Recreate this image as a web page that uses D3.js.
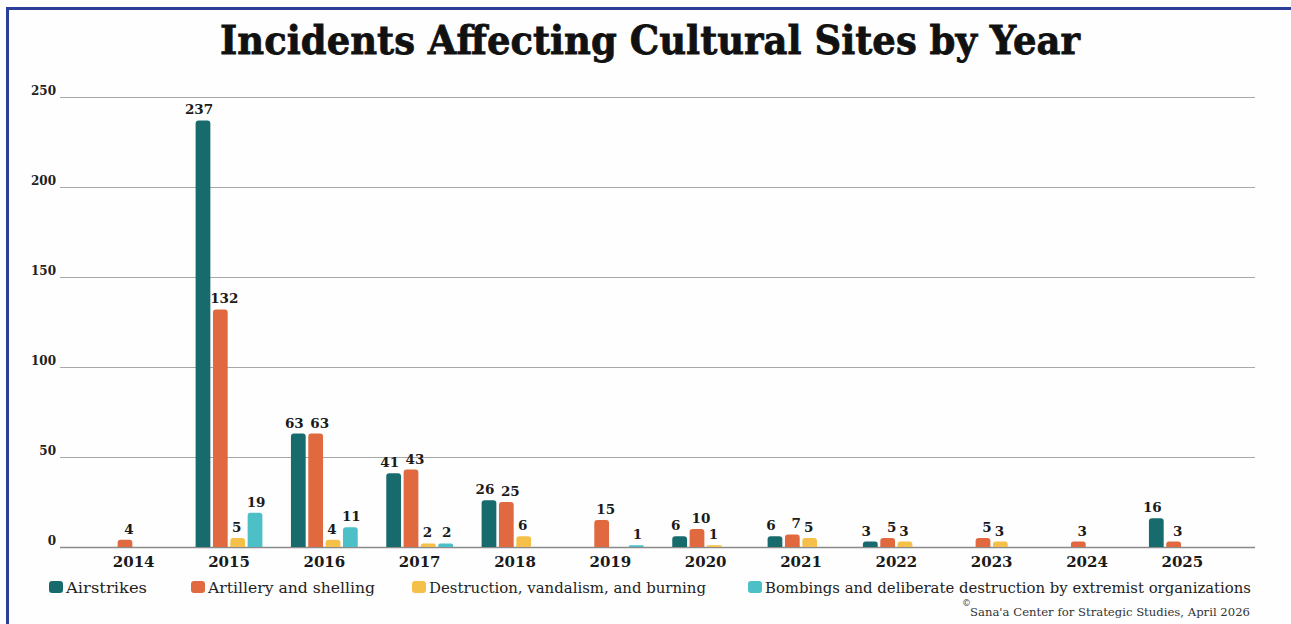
<html>
  <head>
    <title>Incidents Affecting Cultural Sites by Year</title>
    <script src="https://d3js.org/d3.v7.min.js"></script>
    <style>
      body { margin: 0; background: #ffffff; }
      text { font-family: "DejaVu Serif", serif; }
    </style>
  </head>
  <body>
    <div id="d3"></div>
    <script>
      // values
      const years = ["2014", "2015", "2016", "2017", "2018", "2019", "2020", "2021", "2022", "2023", "2024", "2025"];
      const airstrikes  = [0, 237, 63, 41, 26, 0, 6, 6, 3, 0, 0, 16];
      const artillery   = [4, 132, 63, 43, 25, 15, 10, 7, 5, 5, 3, 3];
      const destruction = [0, 5, 4, 2, 6, 0, 1, 5, 3, 3, 0, 0];
      const bombings    = [0, 19, 11, 2, 0, 1, 0, 0, 0, 0, 0, 0];
      const seriesNames = [
        "Airstrikes",
        "Artillery and shelling",
        "Destruction, vandalism, and burning",
        "Bombings and deliberate destruction by extremist organizations"
      ];
      const seriesColors = ["#186b6c", "#e0693f", "#f5c049", "#4cbfc7"];
      const yTicks = [0, 50, 100, 150, 200, 250];

      const series = [airstrikes, artillery, destruction, bombings];

      let data = {
        width: 1291,
        height: 624,
        plotLeft: 60,
        plotRight: 1255,
        bandLeft: 86,
        bandRight: 1230,
        yTop: 97,
        yBase: 547
      };

      let svg = d3.select("#d3")
        .append("svg")
        .attr("width", data.width)
        .attr("height", data.height)

      svg.append("rect")
        .attr("width", data.width)
        .attr("height", data.height)
        .attr("fill", "#fefefe")

      // blue frame (top and left edges)
      svg.append("path")
        .attr("d", `M7.5,${data.height} L7.5,8.5 L${data.width},8.5`)
        .attr("fill", "none")
        .attr("stroke", "#2b3f99")
        .attr("stroke-width", 3)

      svg.append("text")
        .attr("x", 650)
        .attr("y", 54)
        .attr("text-anchor", "middle")
        .attr("font-size", 40)
        .attr("font-weight", "bold")
        .attr("textLength", 860)
        .attr("lengthAdjust", "spacingAndGlyphs")
        .attr("fill", "#111")
        .attr("stroke", "#111")
        .attr("stroke-width", 0.8)
        .text("Incidents Affecting Cultural Sites by Year")

      let y = d3.scaleLinear()
        .domain([0, 250])
        .range([data.yBase, data.yTop])

      let x0 = d3.scaleBand()
        .domain(years)
        .range([data.bandLeft, data.bandRight])

      let x1 = d3.scaleBand()
        .domain(d3.range(series.length))
        .range([0, 72])
        .padding(0.15)

      // gridlines + y labels
      let grid = svg.append("g")
      grid.selectAll("line")
        .data(yTicks)
        .join("line")
        .attr("x1", data.plotLeft)
        .attr("x2", data.plotRight)
        .attr("y1", d => Math.round(y(d)) + 0.5)
        .attr("y2", d => Math.round(y(d)) + 0.5)
        .attr("stroke", d => d === 0 ? "#8a8a8a" : "#a8a8a8")
        .attr("stroke-width", d => d === 0 ? 1.5 : 1)

      grid.selectAll("text")
        .data(yTicks)
        .join("text")
        .attr("x", 56)
        .attr("y", d => y(d) - 2)
        .attr("text-anchor", "end")
        .attr("font-size", 12)
        .attr("font-weight", "bold")
        .attr("fill", "#222")
        .text(d => d)

      // rounded-top bar path
      let barPath = (x, top, w, h) => {
        const r = Math.min(3, h / 2, w / 2);
        return `M${x},${top + h} L${x},${top + r} Q${x},${top} ${x + r},${top}` +
          ` L${x + w - r},${top} Q${x + w},${top} ${x + w},${top + r} L${x + w},${top + h} Z`;
      }

      let cells = [];
      years.forEach((yr, i) => {
        series.forEach((s, j) => {
          if (s[i] > 0) cells.push({ year: yr, k: j, value: s[i] });
        });
      });

      let groupOffset = (x0.bandwidth() - 72) / 2;

      let bars = svg.append("g")
      bars.selectAll("path")
        .data(cells)
        .join("path")
        .attr("fill", d => seriesColors[d.k])
        .attr("d", d => {
          const bx = x0(d.year) + groupOffset + x1(d.k);
          const top = y(d.value);
          return barPath(bx, top, x1.bandwidth(), data.yBase - top);
        })

      // value labels, nudged apart so neighbours don't touch
      const labelShift = [-4, 4, -1, 1];
      bars.selectAll("text")
        .data(cells)
        .join("text")
        .attr("x", d => x0(d.year) + groupOffset + x1(d.k) + x1.bandwidth() / 2 + labelShift[d.k])
        .attr("y", d => y(d.value) - 6)
        .attr("text-anchor", "middle")
        .attr("font-size", 13.5)
        .attr("font-weight", "bold")
        .attr("fill", "#1a1a1a")
        .text(d => d.value)

      // year labels
      svg.append("g")
        .selectAll("text")
        .data(years)
        .join("text")
        .attr("x", d => x0(d) + x0.bandwidth() / 2)
        .attr("y", 567)
        .attr("text-anchor", "middle")
        .attr("font-size", 15)
        .attr("font-weight", "bold")
        .attr("fill", "#1a1a1a")
        .text(d => d)

      // legend
      const legendX = [49, 191, 412, 748];
      const legendW = [81, 167, 277, 486];
      let legend = svg.append("g")
        .selectAll("g")
        .data(seriesNames)
        .join("g")
        .attr("transform", (d, i) => `translate(${legendX[i]},581)`)

      legend.append("rect")
        .attr("width", 14)
        .attr("height", 12)
        .attr("rx", 3)
        .attr("fill", (d, i) => seriesColors[i])

      legend.append("text")
        .attr("x", 17)
        .attr("y", 12)
        .attr("font-size", 15)
        .attr("textLength", (d, i) => legendW[i])
        .attr("lengthAdjust", "spacingAndGlyphs")
        .attr("fill", "#222")
        .text(d => d)

      // source
      svg.append("text")
        .attr("x", 962)
        .attr("y", 606)
        .attr("font-size", 9)
        .attr("fill", "#333")
        .text("©")
      svg.append("text")
        .attr("x", 970)
        .attr("y", 616)
        .attr("font-size", 11)
        .attr("textLength", 280)
        .attr("lengthAdjust", "spacingAndGlyphs")
        .attr("fill", "#333")
        .text("Sana'a Center for Strategic Studies, April 2026")
    </script>
  </body>
</html>
